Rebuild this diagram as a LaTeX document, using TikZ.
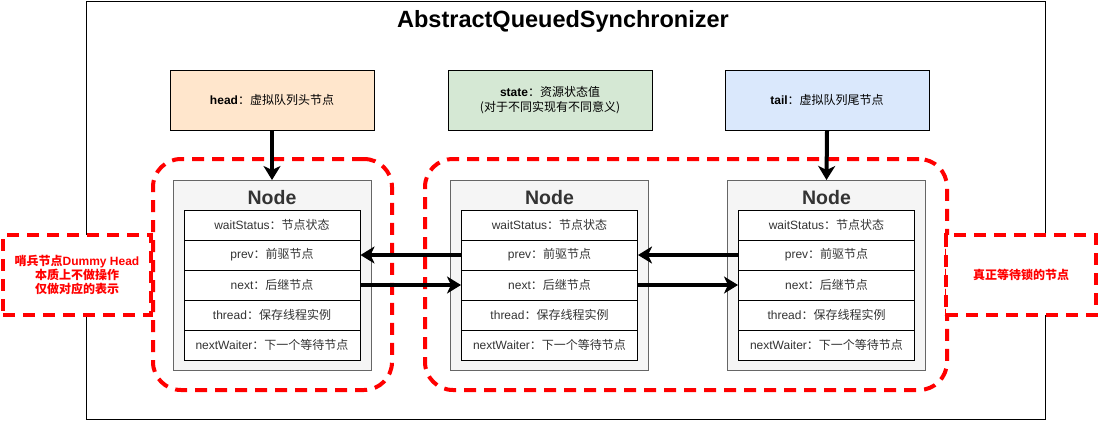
\documentclass[tikz,border=0pt]{standalone}
\usepackage{fontspec}
\setmainfont{Liberation Sans}
\newfontfamily\cjk{Noto Sans CJK SC}
\usetikzlibrary{arrows.meta}
\definecolor{peach}{HTML}{FFE6CC}
\definecolor{mint}{HTML}{D5E8D4}
\definecolor{sky}{HTML}{DAE8FC}
\definecolor{nodefill}{HTML}{F5F5F5}
\definecolor{txt}{HTML}{333333}
\definecolor{redline}{HTML}{FF0000}
\tikzset{
  topbox/.style={draw=black, line width=1pt, minimum width=204pt, minimum height=60pt, inner sep=0pt, align=center, font=\fontsize{12}{15}\selectfont, text=black},
  container/.style={draw=black!60, fill=nodefill, line width=1pt, minimum width=198pt, minimum height=190pt, inner sep=0pt},
  nodetitle/.style={font=\fontsize{19.5}{22}\selectfont\bfseries, text=txt, inner sep=0pt},
  rowbox/.style={draw=black, fill=white, line width=1pt, minimum width=176pt, minimum height=30pt, inner sep=0pt, font=\fontsize{12}{14}\selectfont, text=txt},
  grp/.style={draw=redline, line width=4pt, dash pattern=on 12pt off 8pt, rounded corners=28pt},
  lbl/.style={draw=redline, fill=white, line width=4pt, dash pattern=on 12pt off 8pt, inner sep=0pt, align=center, text=redline, font=\fontsize{12}{14}\selectfont\bfseries},
  arr/.style={line width=4pt, -{Stealth[length=14pt, width=17pt, inset=4pt]}, shorten >=0pt},
}
\begin{document}
\begin{tikzpicture}[x=1pt, y=-1pt]
\useasboundingbox (0,0) rectangle (1099,421);
% outer frame
\node[draw=black, line width=1pt, fill=white, minimum width=959pt, minimum height=418pt, inner sep=0pt] (frame) at (565.5,210) {};
\node[font=\fontsize{23.5}{26}\selectfont\bfseries, inner sep=0pt] (title) at (563,21) {AbstractQueuedSynchronizer};
% top boxes
\node[topbox, fill=peach] (head) at (272,100) {\textbf{head}{\cjk ：虚拟队列头节点}};
\node[topbox, fill=mint] (state) at (550,100) {\textbf{state}{\cjk ：资源状态值}\\{\cjk (对于不同实现有不同意义)}};
\node[topbox, fill=sky] (tail) at (827,100) {\textbf{tail}{\cjk ：虚拟队列尾节点}};
% groups
\node[grp, minimum width=239pt, minimum height=231pt, inner sep=0pt] (g1) at (272.5,274.5) {};
\node[grp, minimum width=522pt, minimum height=231pt, inner sep=0pt] (g2) at (686,274.5) {};
% nodes
\foreach \i/\x in {1/272, 2/549.5, 3/826.5} {
  \node[container] (n\i) at (\x,275.5) {};
  \node[nodetitle] (n\i t) at (\x,198) {Node};
  \node[rowbox] (n\i r1) at (\x,225) {waitStatus{\cjk ：节点状态}};
  \node[rowbox] (n\i r2) at (\x,255) {prev{\cjk ：前驱节点}};
  \node[rowbox] (n\i r3) at (\x,285) {next{\cjk ：后继节点}};
  \node[rowbox] (n\i r4) at (\x,315) {thread{\cjk ：保存线程实例}};
  \node[rowbox] (n\i r5) at (\x,345) {nextWaiter{\cjk ：下一个等待节点}};
}
% arrows
\draw[arr] (head.south) -- (n1.north);
\draw[arr] (tail.south) -- (n3.north);
\draw[arr] (n2r2.west) -- (n1r2.east);
\draw[arr] (n1r3.east) -- (n2r3.west);
\draw[arr] (n3r2.west) -- (n2r2.east);
\draw[arr] (n2r3.east) -- (n3r3.west);
% labels
\node[lbl, minimum width=148pt, minimum height=80pt] (lleft) at (77,275) {{\cjk\bfseries 哨兵节点}Dummy Head\\{\cjk\bfseries 本质上不做操作}\\{\cjk\bfseries 仅做对应的表示}};
\node[lbl, minimum width=150pt, minimum height=80pt] (lright) at (1021,275) {{\cjk\bfseries 真正等待锁的节点}};
\end{tikzpicture}
\end{document}
